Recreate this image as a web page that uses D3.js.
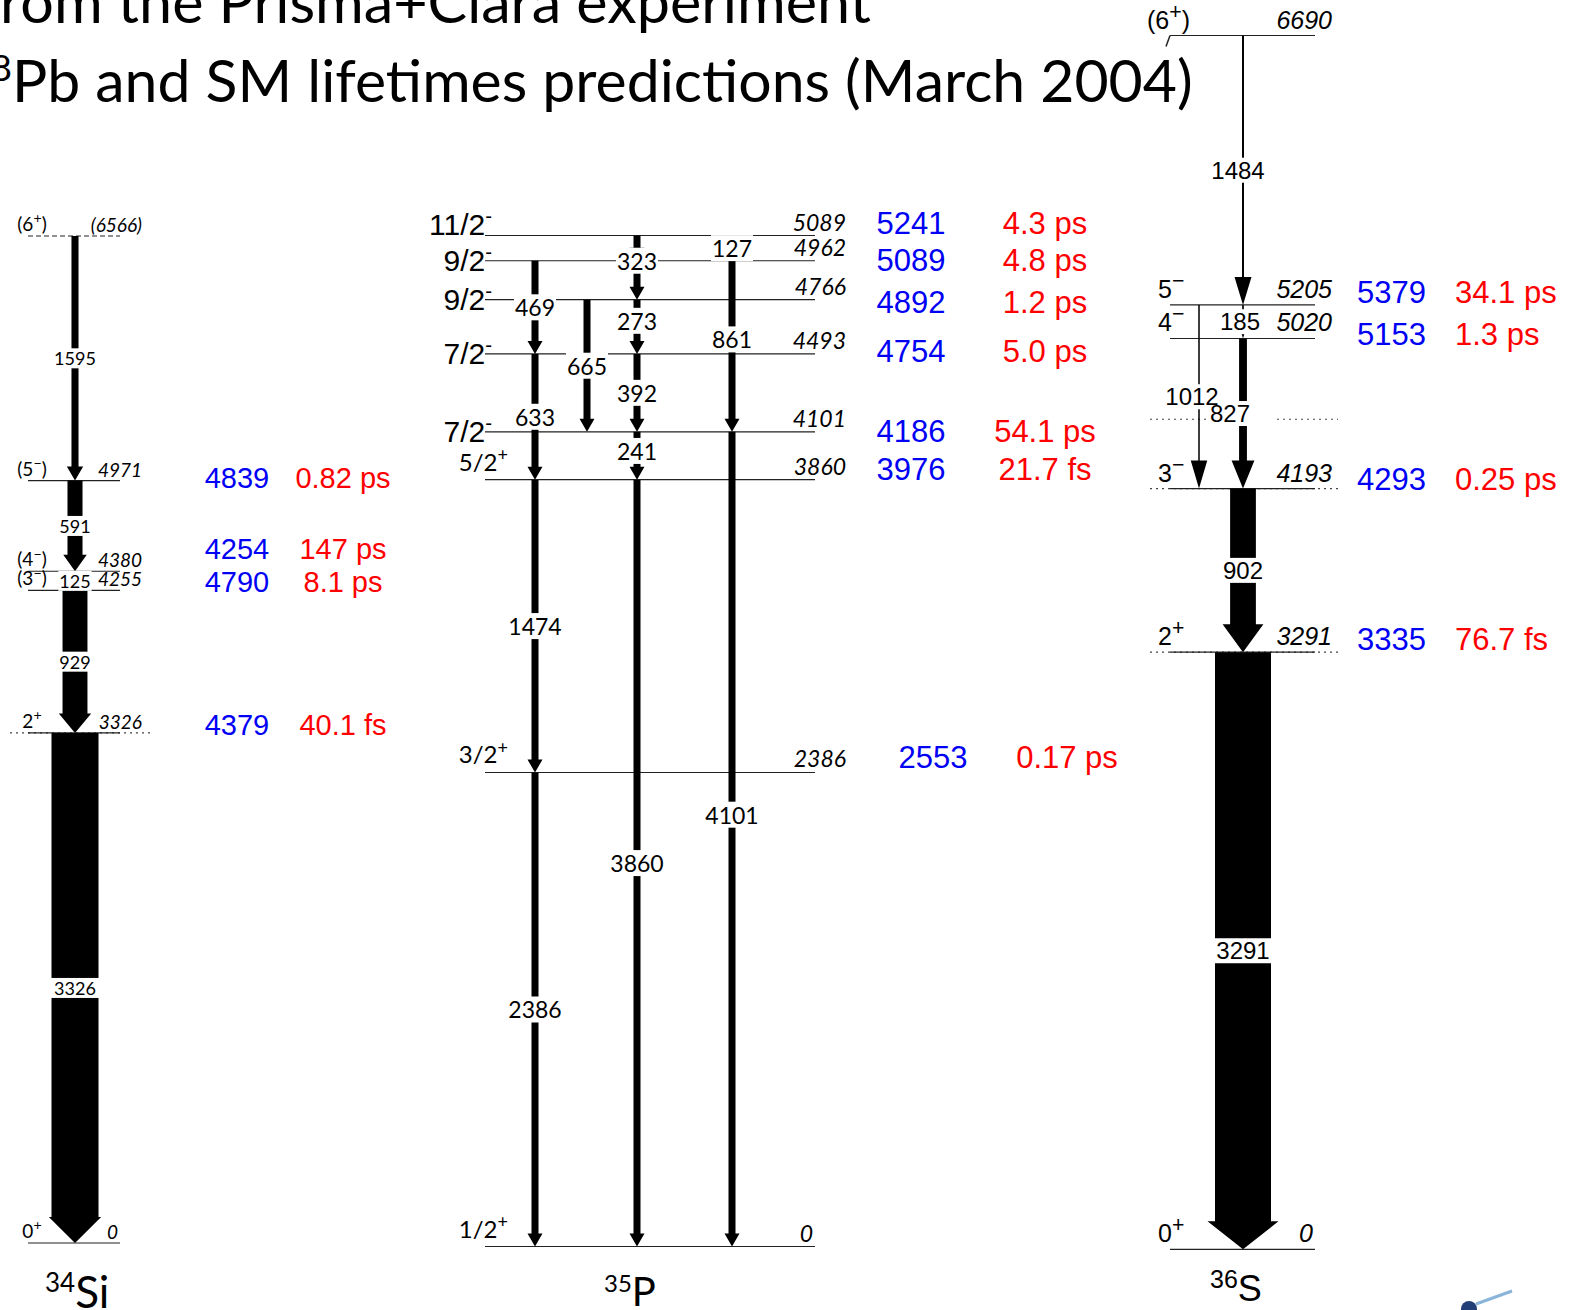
<!DOCTYPE html>
<html>
<head>
<meta charset="utf-8">
<script src="https://cdn.jsdelivr.net/npm/d3@7"></script>
<style>
  body { margin: 0; background: #fff; }
  svg { display: block; }
</style>
</head>
<body>
<svg id="chart" width="1579" height="1310"></svg>
<script>
// ---- data ----
const titleLine1 = ["f", "rom the Prisma+Clara experiment"];
const titleLine2 = ["208", "Pb and SM lifetimes predictions (March 2004)"];

// 34Si
const si34Levels = [
  { e: 0, spin: "0+", label: "0" },
  { e: 3326, spin: "2+", label: "3326" },
  { e: 4255, spin: "(3−)", label: "4255" },
  { e: 4380, spin: "(4−)", label: "4380" },
  { e: 4971, spin: "(5−)", label: "4971" },
  { e: 6566, spin: "(6+)", label: "(6566)", tentative: true }
];
const si34Gammas = [
  { from: 6566, to: 4971, eg: "1595", col: "A", intensity: 15 },
  { from: 4971, to: 4380, eg: "591", col: "A", intensity: 32 },
  { from: 4380, to: 4255, eg: "125", col: "A", intensity: 0 },
  { from: 4255, to: 3326, eg: "929", col: "A", intensity: 53 },
  { from: 3326, to: 0, eg: "3326", col: "A", intensity: 100 }
];
const si34Pred = [
  { level: 4971, sm: "4839", tau: "0.82 ps" },
  { level: 4380, sm: "4254", tau: "147 ps" },
  { level: 4255, sm: "4790", tau: "8.1 ps" },
  { level: 3326, sm: "4379", tau: "40.1 fs" }
];

// 35P
const p35Levels = [
  { e: 0, spin: "1/2+", label: "0" },
  { e: 2386, spin: "3/2+", label: "2386" },
  { e: 3860, spin: "5/2+", label: "3860" },
  { e: 4101, spin: "7/2-", label: "4101" },
  { e: 4493, spin: "7/2-", label: "4493" },
  { e: 4766, spin: "9/2-", label: "4766" },
  { e: 4962, spin: "9/2-", label: "4962" },
  { e: 5089, spin: "11/2-", label: "5089" }
];
const p35Gammas = [
  { from: 5089, to: 4962, eg: "127", col: "C", intensity: 100 },
  { from: 4962, to: 4766, eg: "323", col: "C", intensity: 100 },
  { from: 4962, to: 4493, eg: "469", col: "A", intensity: 100 },
  { from: 4962, to: 4101, eg: "861", col: "D", intensity: 100 },
  { from: 4766, to: 4493, eg: "273", col: "C", intensity: 100 },
  { from: 4766, to: 4101, eg: "665", col: "B", intensity: 100 },
  { from: 4493, to: 4101, eg: "392", col: "C", intensity: 100 },
  { from: 4493, to: 3860, eg: "633", col: "A", intensity: 100 },
  { from: 4101, to: 3860, eg: "241", col: "C", intensity: 100 },
  { from: 3860, to: 2386, eg: "1474", col: "A", intensity: 100 },
  { from: 2386, to: 0, eg: "2386", col: "A", intensity: 100 },
  { from: 3860, to: 0, eg: "3860", col: "C", intensity: 100 },
  { from: 4101, to: 0, eg: "4101", col: "D", intensity: 100 }
];
const p35Pred = [
  { level: 5089, sm: "5241", tau: "4.3 ps" },
  { level: 4962, sm: "5089", tau: "4.8 ps" },
  { level: 4766, sm: "4892", tau: "1.2 ps" },
  { level: 4493, sm: "4754", tau: "5.0 ps" },
  { level: 4101, sm: "4186", tau: "54.1 ps" },
  { level: 3860, sm: "3976", tau: "21.7 fs" },
  { level: 2386, sm: "2553", tau: "0.17 ps" }
];

// 36S
const s36Levels = [
  { e: 0, spin: "0+", label: "0" },
  { e: 3291, spin: "2+", label: "3291" },
  { e: 4193, spin: "3−", label: "4193" },
  { e: 4575, spin: "", label: "", marker: true },
  { e: 5020, spin: "4−", label: "5020" },
  { e: 5205, spin: "5−", label: "5205" },
  { e: 6690, spin: "(6+)", label: "6690" }
];
const s36Gammas = [
  { from: 6690, to: 5205, eg: "1484", col: "main", intensity: 3.5 },
  { from: 5205, to: 5020, eg: "185", col: "main", intensity: 3 },
  { from: 5205, to: 4193, eg: "1012", col: "side", intensity: 2.7 },
  { from: 5020, to: 4193, eg: "827", col: "main", intensity: 14 },
  { from: 4193, to: 3291, eg: "902", col: "main", intensity: 46 },
  { from: 3291, to: 0, eg: "3291", col: "main", intensity: 100 }
];
const s36Pred = [
  { level: 5205, sm: "5379", tau: "34.1 ps" },
  { level: 5020, sm: "5153", tau: "1.3 ps" },
  { level: 4193, sm: "4293", tau: "0.25 ps" },
  { level: 3291, sm: "3335", tau: "76.7 fs" }
];

const nuclei = [["34", "Si"], ["35", "P"], ["36", "S"]];

// ---- layout ----
const GEO = "Lato, 'DejaVu Sans', sans-serif";
const HELV = "'Liberation Sans', Arial, Helvetica, sans-serif";
const BLUE = "#0000f5";
const RED = "#ff0000";

// label nudges where the original moves a gamma label off the midpoint
const labelFrac = { "323": 0, "4101": 0.47, "241": 0.4, "273": 0.39, "861": 0.46 };
const labelDx = { "127": 95, "1012": -7, "827": -13, "185": -3, "1484": -5 };

const panels = [
  {
    levels: si34Levels, gammas: si34Gammas, preds: si34Pred, nuc: nuclei[0],
    y: d3.scaleLinear().domain([0, 6566]).range([1243, 236]),
    col: d3.scaleOrdinal().domain(["A"]).range([75]),
    w: d3.scaleLinear().domain([0, 100]).range([0, 47]),
    head: w => [w * 0.9 + 10, 12 + 0.3 * w],
    line: [28, 120], ext: [10, 150], extLevels: [3326],
    spinStyle: () => ({ x: 32, anchor: "middle", dy: -5, font: GEO, size: 19, weight: 400, sup: 0.75 }),
    energy: { x: 142, dy: -4, font: GEO, size: 19, weight: 400 },
    gFont: { font: GEO, size: 18, weight: 400 },
    pred: { blue: 237, red: 343, anchor: "middle", size: 29, dy: [7, -12, 2, 2], dx: [0, 0, 0, 0] },
    name: { x: 45, y: 1308, size: 44, sup: 26, font: GEO, weight: 400 }
  },
  {
    levels: p35Levels, gammas: p35Gammas, preds: p35Pred, nuc: nuclei[1],
    y: d3.scaleLinear().domain([0, 5089]).range([1246.5, 235.5]),
    col: d3.scaleOrdinal().domain(["A", "B", "C", "D"]).range([535, 587, 637, 732]),
    w: d3.scaleLinear().domain([0, 100]).range([0, 7]),
    head: () => [15, 13],
    line: [485, 815], ext: null, extLevels: [],
    spinStyle: d => d.spin.includes("-")
      ? { x: 492, anchor: "end", dy: d.e === 5089 ? -1 : 10, font: HELV, size: 30, weight: 400, sup: 0.68 }
      : { x: 508, anchor: "end", dy: -9, font: GEO, size: 24, weight: 400, sup: 0.75 },
    energy: { x: 846, dy: -5, font: GEO, size: 23, weight: 400 },
    gFont: { font: GEO, size: 23, weight: 400 },
    pred: { blue: 911, red: 1045, anchor: "middle", size: 31, dy: [-2, 10, 13, 8, 10, 0, -4], dx: [0, 0, 0, 0, 0, 0, 22] },
    name: { x: 604, y: 1306, size: 40, sup: 24, font: GEO, weight: 400 }
  },
  {
    levels: s36Levels, gammas: s36Gammas, preds: s36Pred, nuc: nuclei[2],
    y: d3.scaleLinear().domain([0, 6690]).range([1249.3, 35.5]),
    col: d3.scaleOrdinal().domain(["main", "side"]).range([1243, 1199]),
    w: d3.scaleLinear().domain([0, 100]).range([0, 56]),
    head: w => [Math.max(16, w + 15), 28],
    line: [1170, 1315], ext: [1150, 1338], extLevels: [4193, 3291], gap: [1213, 1277],
    spinStyle: d => ({ x: d.spin.startsWith("(") ? 1147 : 1158, anchor: "start", dy: -7, font: HELV, size: 25, weight: 400, sup: 0.85 }),
    energy: { x: 1332, dy: -7, font: HELV, size: 25, weight: 400 },
    gFont: { font: HELV, size: 24, weight: 400 },
    pred: { blue: 1357, red: 1455, anchor: "start", size: 31, dy: [-2, 7, 1, -2], dx: [0, 0, 0, 0] },
    name: { x: 1210, y: 1301, size: 36, sup: 25, font: HELV, weight: 400 }
  }
];

const svg = d3.select("#chart");

function arrowPath(x, y1, y2, w, hw, hh) {
  const p = d3.path();
  const yb = y2 - hh;
  p.moveTo(x - w / 2, y1);
  p.lineTo(x + w / 2, y1);
  p.lineTo(x + w / 2, yb);
  p.lineTo(x + hw / 2, yb);
  p.lineTo(x, y2);
  p.lineTo(x - hw / 2, yb);
  p.lineTo(x - w / 2, yb);
  p.closePath();
  return p.toString();
}

// text with a raised parity sign
function spinText(sel, str, size, sup) {
  const m = str.match(/^(.*?)([+\-−])(.*)$/);
  if (!m) { sel.text(str); return; }
  const up = size * 0.4;
  sel.append("tspan").text(m[1]);
  sel.append("tspan").attr("font-size", size * sup).attr("dy", -up).text(m[2]);
  if (m[3]) sel.append("tspan").attr("dy", up).text(m[3]);
}

// ---- title ----
function titleLine(parts, right, baseline, target, supSize) {
  const g = svg.append("g");
  const t = g.append("text")
    .attr("font-family", "Lato, 'Open Sans', sans-serif")
    .attr("font-size", 58)
    .attr("fill", "#000");
  const a = t.append("tspan").text(parts[0]);
  if (supSize) a.attr("font-size", supSize).attr("dy", -21);
  const b = t.append("tspan").text(parts[1]);
  if (supSize) b.attr("dy", 21);
  const la = a.node().getComputedTextLength();
  const lb = b.node().getComputedTextLength();
  const s = target / lb;
  g.attr("transform", `translate(${right - target - la * s},${baseline}) scale(${s},1)`);
}
titleLine(titleLine1, 871, 23, 871, 0);
titleLine(titleLine2, 1193, 102, 1181, 36);

// ---- level schemes ----
panels.forEach(P => {
  const g = svg.append("g");
  const y = P.y;

  // levels
  P.levels.forEach(d => {
    const yy = y(d.e);
    if (d.marker) {
      [[P.ext[0], P.gap[0]], [P.gap[1], P.ext[1]]].forEach(([a, b]) => {
        g.append("line").attr("x1", a).attr("x2", b).attr("y1", yy).attr("y2", yy)
          .attr("stroke", "#444").attr("stroke-width", 1.2).attr("stroke-dasharray", "2,4");
      });
      return;
    }
    if (P.extLevels.includes(d.e)) {
      g.append("line").attr("x1", P.ext[0]).attr("x2", P.ext[1]).attr("y1", yy).attr("y2", yy)
        .attr("stroke", "#444").attr("stroke-width", 1.2).attr("stroke-dasharray", "2,4");
    }
    g.append("line")
      .attr("x1", P.line[0]).attr("x2", P.line[1])
      .attr("y1", yy).attr("y2", yy)
      .attr("stroke", "#222").attr("stroke-width", 1.2)
      .attr("stroke-dasharray", d.tentative ? "5,3" : null);
  });

  // gammas
  g.selectAll("path.gamma")
    .data(P.gammas)
    .join("path")
    .attr("class", "gamma")
    .attr("fill", "#000")
    .attr("d", d => {
      const w = P.w(d.intensity);
      const [hw, hh] = P.head(w);
      return arrowPath(P.col(d.col), y(d.from), y(d.to), w, hw, hh);
    });

  // gamma labels: white boxes first, then all texts on top
  const boxes = g.append("g");
  const texts = g.append("g");
  P.gammas.forEach(d => {
    const f = labelFrac[d.eg] ?? 0.5;
    const x = P.col(d.col) + (labelDx[d.eg] || 0);
    const yy = y(d.from) + (y(d.to) - y(d.from)) * f;
    const t = texts.append("text")
      .attr("x", x).attr("y", yy)
      .attr("text-anchor", "middle")
      .attr("dominant-baseline", "central")
      .attr("font-family", P.gFont.font)
      .attr("font-weight", P.gFont.weight)
      .attr("font-size", P.gFont.size)
      .text(d.eg);
    const bb = t.node().getBBox();
    const sw = (labelDx[d.eg] ? 0 : P.w(d.intensity)) + 2;
    const bw = Math.max(bb.width + 2, sw);
    boxes.append("rect")
      .attr("x", x - bw / 2).attr("y", bb.y + 1)
      .attr("width", bw).attr("height", bb.height - 2)
      .attr("fill", "#fff");
  });

  // spin labels
  P.levels.filter(d => d.spin).forEach(d => {
    const st = P.spinStyle(d);
    const t = g.append("text")
      .attr("x", st.x).attr("y", y(d.e) + st.dy)
      .attr("text-anchor", st.anchor)
      .attr("font-family", st.font)
      .attr("font-weight", st.weight)
      .attr("font-size", st.size);
    spinText(t, d.spin, st.size, st.sup);
  });

  // energy labels (ground state sits at the line end)
  g.selectAll("text.energy")
    .data(P.levels.filter(d => d.label))
    .join("text")
    .attr("class", "energy")
    .attr("x", d => d.e === 0 ? P.line[1] - 2 : P.energy.x)
    .attr("y", d => y(d.e) + P.energy.dy)
    .attr("text-anchor", "end")
    .attr("font-family", P.energy.font)
    .attr("font-weight", P.energy.weight)
    .attr("font-style", "italic")
    .attr("font-size", P.energy.size)
    .text(d => d.label);

  // shell-model energies and lifetimes
  P.preds.forEach((d, i) => {
    const yy = y(d.level) + P.pred.dy[i];
    g.append("text")
      .attr("x", P.pred.blue + P.pred.dx[i]).attr("y", yy)
      .attr("text-anchor", P.pred.anchor)
      .attr("font-family", HELV).attr("font-size", P.pred.size)
      .attr("fill", BLUE).text(d.sm);
    g.append("text")
      .attr("x", P.pred.red + P.pred.dx[i]).attr("y", yy)
      .attr("text-anchor", P.pred.anchor)
      .attr("font-family", HELV).attr("font-size", P.pred.size)
      .attr("fill", RED).text(d.tau);
  });

  // nucleus name
  const nt = g.append("text")
    .attr("x", P.name.x).attr("y", P.name.y)
    .attr("font-family", P.name.font)
    .attr("font-weight", P.name.weight)
    .attr("font-size", P.name.size);
  nt.append("tspan").attr("font-size", P.name.sup).attr("dy", -P.name.size * 0.36).text(P.nuc[0]);
  nt.append("tspan").attr("dy", P.name.size * 0.36).text(P.nuc[1]);
});

// small tick joining the (6+) label in 36S
svg.append("line")
  .attr("x1", 1170).attr("y1", panels[2].y(6690))
  .attr("x2", 1166).attr("y2", panels[2].y(6690) + 11)
  .attr("stroke", "#222").attr("stroke-width", 1.5);

// pin decoration, bottom right
svg.append("line")
  .attr("x1", 1476).attr("y1", 1304).attr("x2", 1512).attr("y2", 1291)
  .attr("stroke", "#8ab4d8").attr("stroke-width", 3);
svg.append("circle")
  .attr("cx", 1469).attr("cy", 1309).attr("r", 8)
  .attr("fill", "#223f78");
</script>
</body>
</html>
